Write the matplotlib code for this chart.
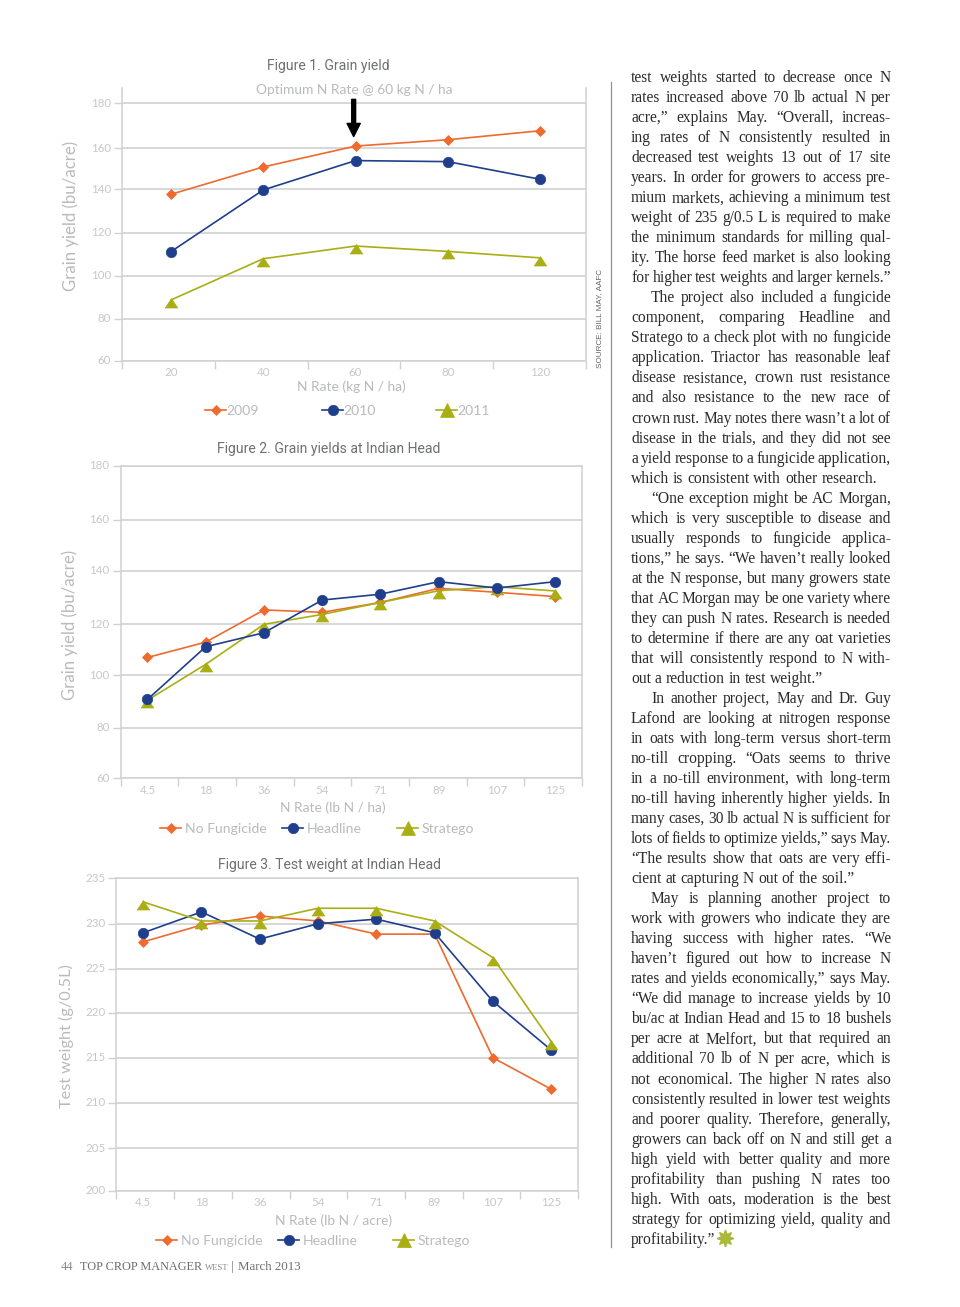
# Recreate magazine page: three oat N rate charts plus a text column

import matplotlib
matplotlib.use("Agg")
import matplotlib.pyplot as plt
from matplotlib.lines import Line2D
from matplotlib.transforms import ScaledTranslation
import numpy as np

W, H = 960, 1307

ORANGE = '#EE6A2F'
NAVY = '#1F3F8C'
OLIVE = '#A9AE12'
GRID = '#D0D1D3'
TICK_TEXT = '#C6C7C9'
LABEL_TEXT = '#B9BABC'
TITLE_TEXT = '#6F7072'

# Figure 1 data
fig1_rates = ['20', '40', '60', '80', '120']
fig1_2009 = [137.7, 150.9, 161, 163.8, 167.8]
fig1_2010 = [111.2, 139.7, 154, 153.5, 144.9]
fig1_2011 = [88.8, 107.9, 113.8, 111.3, 108.3]

# Figure 2 data
rates_lb = ['4.5', '18', '36', '54', '71', '89', '107', '125']
fig2_none = [107, 113, 125.4, 124.5, 128.2, 133.5, 132, 130.4]
fig2_headline = [90.8, 111.2, 116.7, 129.1, 131.3, 136, 133.6, 136]
fig2_stratego = [90.5, 104.3, 120, 123.7, 128.2, 132.6, 134.1, 132.5]

# Figure 3 data
fig3_none = [228, 229.85, 230.85, 230.3, 228.85, 228.85, 215, 211.5]
fig3_headline = [229, 231.3, 228.3, 230, 230.5, 229, 221.3, 215.85]
fig3_stratego = [232.4, 230.3, 230.3, 231.7, 231.7, 230.3, 226.25, 216.8]

# Tick values and where the printed gridlines fall on the page, they are not evenly spaced
fig1_ticks = [60, 80, 100, 120, 140, 160, 180, 187]
fig1_tick_px = [360.7, 319, 275.7, 232.7, 189.3, 148.3, 103.3, 88]
fig2_ticks = [60, 80, 100, 120, 140, 160, 180]
fig2_tick_px = [778.3, 727.7, 675.3, 624.3, 571, 520, 466]
fig3_ticks = [200, 205, 210, 215, 220, 225, 230, 235]
fig3_tick_px = [1191, 1148.3, 1102.7, 1057.7, 1012.7, 969, 923.7, 878.3]

# Text column, (line, justified, indented)
column_lines = [
    ("test weights started to decrease once N", True, False),
    ("rates increased above 70 lb actual N per", True, False),
    ("acre,\u201d explains May. \u201cOverall, increas-", True, False),
    ("ing rates of N consistently resulted in", True, False),
    ("decreased test weights 13 out of 17 site", True, False),
    ("years. In order for growers to access pre-", True, False),
    ("mium markets, achieving a minimum test", True, False),
    ("weight of 235 g/0.5 L is required to make", True, False),
    ("the minimum standards for milling qual-", True, False),
    ("ity. The horse feed market is also looking", True, False),
    ("for higher test weights and larger kernels.\u201d", True, False),
    ("The project also included a fungicide", True, True),
    ("component, comparing Headline and", True, False),
    ("Stratego to a check plot with no fungicide", True, False),
    ("application. Triactor has reasonable leaf", True, False),
    ("disease resistance, crown rust resistance", True, False),
    ("and also resistance to the new race of", True, False),
    ("crown rust. May notes there wasn\u2019t a lot of", True, False),
    ("disease in the trials, and they did not see", True, False),
    ("a yield response to a fungicide application,", True, False),
    ("which is consistent with other research.", False, False),
    ("\u201cOne exception might be AC Morgan,", True, True),
    ("which is very susceptible to disease and", True, False),
    ("usually responds to fungicide applica-", True, False),
    ("tions,\u201d he says. \u201cWe haven\u2019t really looked", True, False),
    ("at the N response, but many growers state", True, False),
    ("that AC Morgan may be one variety where", True, False),
    ("they can push N rates. Research is needed", True, False),
    ("to determine if there are any oat varieties", True, False),
    ("that will consistently respond to N with-", True, False),
    ("out a reduction in test weight.\u201d", False, False),
    ("In another project, May and Dr. Guy", True, True),
    ("Lafond are looking at nitrogen response", True, False),
    ("in oats with long-term versus short-term", True, False),
    ("no-till cropping. \u201cOats seems to thrive", True, False),
    ("in a no-till environment, with long-term", True, False),
    ("no-till having inherently higher yields. In", True, False),
    ("many cases, 30 lb actual N is sufficient for", True, False),
    ("lots of fields to optimize yields,\u201d says May.", True, False),
    ("\u201cThe results show that oats are very effi-", True, False),
    ("cient at capturing N out of the soil.\u201d", False, False),
    ("May is planning another project to", True, True),
    ("work with growers who indicate they are", True, False),
    ("having success with higher rates. \u201cWe", True, False),
    ("haven\u2019t figured out how to increase N", True, False),
    ("rates and yields economically,\u201d says May.", True, False),
    ("\u201cWe did manage to increase yields by 10", True, False),
    ("bu/ac at Indian Head and 15 to 18 bushels", True, False),
    ("per acre at Melfort, but that required an", True, False),
    ("additional 70 lb of N per acre, which is", True, False),
    ("not economical. The higher N rates also", True, False),
    ("consistently resulted in lower test weights", True, False),
    ("and poorer quality. Therefore, generally,", True, False),
    ("growers can back off on N and still get a", True, False),
    ("high yield with better quality and more", True, False),
    ("profitability than pushing N rates too", True, False),
    ("high. With oats, moderation is the best", True, False),
    ("strategy for optimizing yield, quality and", True, False),
    ("profitability.\u201d", False, False),
]

SANS = ['Lato', 'DejaVu Sans']
NARROW = ['Roboto', 'DejaVu Sans']
SERIF = ['Liberation Serif', 'DejaVu Serif']

# Triangle hung from its data point: the line meets it near the apex
TRIANGLE = [(-1, -1.2), (1, -1.2), (0, 0.3), (-1, -1.2)]
TRIANGLE_SIZE = 10.8

fig = plt.figure(figsize=(W / 100, H / 100), dpi=100, facecolor='white')


def fx(px):
    return px / W


def fy(py):
    return 1 - py / H


def page_text(x, y, s, **kw):
    kw.setdefault('va', 'center')
    return fig.text(fx(x), fy(y), s, **kw)


def make_axes(left, right, ticks, tick_px, labels, xlim):
    top, bottom = tick_px[-1], tick_px[0]
    ax = fig.add_axes([fx(left), fy(bottom), (right - left) / W, (bottom - top) / H])

    # piecewise y scale so the gridlines land where they are printed
    neg_px = [-p for p in tick_px]
    ax.set_yscale('function', functions=(lambda v: np.interp(v, ticks, neg_px),
                                         lambda p: np.interp(p, neg_px, ticks)))
    ax.set_xlim(*xlim)
    ax.set_ylim(ticks[0], ticks[-1])
    ax.set_facecolor('none')
    for side in ['left', 'right', 'top', 'bottom']:
        ax.spines[side].set_color(GRID)
        ax.spines[side].set_linewidth(1.1)
    ax.set_yticks(ticks)
    ax.tick_params(axis='y', length=6, width=1.0, color=GRID, labelcolor=TICK_TEXT,
                   labelsize=8.3, pad=2)
    ax.grid(axis='y', color=GRID, linewidth=1.2)
    ax.set_axisbelow(True)

    # tick marks sit on the band edges, labels in the band centres
    ax.set_xticks(np.linspace(xlim[0], xlim[1], len(labels) + 1))
    ax.set_xticklabels([])
    ax.tick_params(axis='x', which='major', length=6, width=1.0, color=GRID)
    ax.set_xticks(range(len(labels)), labels=labels, minor=True)
    ax.tick_params(axis='x', which='minor', length=0, labelcolor=TICK_TEXT,
                   labelsize=8.3, pad=4.5)
    for lab in ax.get_xticklabels(minor=True) + ax.get_yticklabels():
        lab.set_family(SANS)
    return ax


def nudge_ylabels(ax):
    # y tick labels are printed a little above their gridlines
    up = ScaledTranslation(0, 1.2 / 100, fig.dpi_scale_trans)
    for lab in ax.get_yticklabels():
        lab.set_transform(lab.get_transform() + up)


def draw_series(ax, ys, color, marker, size):
    return ax.plot(range(len(ys)), ys, color=color, lw=1.2, marker=marker,
                   markersize=size, markeredgecolor=color, markeredgewidth=0.5,
                   clip_on=False)[0]


def legend_entry(color, marker, size, label, x, y, textpad=0.25):
    handle = Line2D([], [], color=color, lw=1.2, marker=marker, markersize=size,
                    markeredgecolor=color, markeredgewidth=0.5)
    return fig.legend(handles=[handle], labels=[label], loc='center left',
                      bbox_to_anchor=(fx(x), fy(y)), frameon=False, borderpad=0,
                      borderaxespad=0, handlelength=1.5, handletextpad=textpad,
                      prop={'family': SANS, 'size': 10.1}, labelcolor=LABEL_TEXT)


def three_entries(names, xs, y, textpad=0.25):
    legend_entry(ORANGE, 'D', 5.4, names[0], xs[0], y, textpad)
    legend_entry(NAVY, 'o', 7.5, names[1], xs[1], y, textpad)
    legend_entry(OLIVE, '^', 9.5, names[2], xs[2], y, textpad)


# Figure 1
ax1 = make_axes(122, 586, fig1_ticks, fig1_tick_px, fig1_rates, (-0.531, 4.498))
ax1.set_yticks(fig1_ticks[:-1])
ax1.spines['top'].set_visible(False)
draw_series(ax1, fig1_2009, ORANGE, 'D', 5)
draw_series(ax1, fig1_2010, NAVY, 'o', 7.5)
draw_series(ax1, fig1_2011, OLIVE, TRIANGLE, TRIANGLE_SIZE)
ax1.annotate('', xy=(1.98, 165.2), xytext=(1.98, 181.8),
             arrowprops=dict(facecolor='black', edgecolor='black', width=2.8,
                             headwidth=9.5, headlength=9.5, shrink=0))
nudge_ylabels(ax1)
page_text(328.5, 66, 'Figure 1. Grain yield', ha='center', color=TITLE_TEXT,
          family=NARROW, fontsize=10.1)
page_text(354.5, 89.5, 'Optimum N Rate @ 60 kg N / ha', ha='center', color=LABEL_TEXT,
          family=SANS, fontsize=9.9)
page_text(351, 387, 'N Rate (kg N / ha)', ha='center', color=LABEL_TEXT,
          family=SANS, fontsize=9.9)
page_text(71, 216, 'Grain yield (bu/acre)', ha='center', rotation=90, color=LABEL_TEXT,
          family=SANS, fontsize=12.1)
page_text(600, 318, 'SOURCE: BILL MAY, AAFC', ha='center', rotation=90, color='#666666',
          family=['Liberation Sans'], fontsize=5.9)
three_entries(['2009', '2010', '2011'], [205, 322, 436], 411, 0)

# Figure 2
ax2 = make_axes(120.7, 582, fig2_ticks, fig2_tick_px, rates_lb, (-0.46, 7.46))
draw_series(ax2, fig2_none, ORANGE, 'D', 5)
draw_series(ax2, fig2_stratego, OLIVE, TRIANGLE, TRIANGLE_SIZE)
draw_series(ax2, fig2_headline, NAVY, 'o', 7.5)
nudge_ylabels(ax2)
page_text(328.5, 449, 'Figure 2. Grain yields at Indian Head', ha='center', color=TITLE_TEXT,
          family=NARROW, fontsize=10.1)
page_text(333, 807.5, 'N Rate (lb N / ha)', ha='center', color=LABEL_TEXT,
          family=SANS, fontsize=9.9)
page_text(70, 625, 'Grain yield (bu/acre)', ha='center', rotation=90, color=LABEL_TEXT,
          family=SANS, fontsize=12.1)
three_entries(['No Fungicide', 'Headline', 'Stratego'], [160, 282, 397], 829)

# Figure 3
ax3 = make_axes(116.4, 578, fig3_ticks, fig3_tick_px, rates_lb, (-0.46, 7.46))
draw_series(ax3, fig3_none, ORANGE, 'D', 5)
draw_series(ax3, fig3_headline, NAVY, 'o', 7.5)
draw_series(ax3, fig3_stratego, OLIVE, TRIANGLE, TRIANGLE_SIZE)
nudge_ylabels(ax3)
page_text(329, 865, 'Figure 3. Test weight at Indian Head', ha='center', color=TITLE_TEXT,
          family=NARROW, fontsize=10.1)
page_text(334, 1220.5, 'N Rate (lb N / acre)', ha='center', color=LABEL_TEXT,
          family=SANS, fontsize=9.9)
page_text(66, 1036, 'Test weight (g/0.5L)', ha='center', rotation=90, color=LABEL_TEXT,
          family=SANS, fontsize=11.7)
three_entries(['No Fungicide', 'Headline', 'Stratego'], [156, 278, 393], 1241)

# Footer
page_text(61, 1267, '44', color='#8A8A8A', family=SERIF, fontsize=9)
page_text(80, 1267, 'TOP CROP MANAGER', color='#6E6E6E', family=SERIF, fontsize=8.8)
page_text(205, 1267.5, 'WEST', color='#8A8A8A', family=SERIF, fontsize=6.2)
page_text(231, 1267, '|', color='#6E6E6E', family=SERIF, fontsize=9)
page_text(238, 1267, 'March 2013', color='#6E6E6E', family=SERIF, fontsize=9.3)

# Column rule
fig.add_artist(Line2D([fx(611), fx(611)], [fy(82), fy(1247)], color='#8F9092', lw=0.9))

# Justified text column, word by word
renderer = fig.canvas.get_renderer()
COL_LEFT, COL_RIGHT = 631, 891
LINE_TOP, LINE_STEP = 76, 20.03
INDENT = 20


def word_width(word):
    t = fig.text(0, 0, word, family=SERIF, fontsize=11.2)
    w = t.get_window_extent(renderer).width
    t.remove()
    return w


for i, (line, justified, indented) in enumerate(column_lines):
    y = LINE_TOP + i * LINE_STEP
    x0 = COL_LEFT + (INDENT if indented else 0)
    words = line.split(' ')
    widths = [word_width(w) for w in words]
    if justified and len(words) > 1:
        gap = (COL_RIGHT - x0 - sum(widths)) / (len(words) - 1)
    else:
        gap = word_width('n n') - 2 * word_width('n')
    x = x0
    for w, ww in zip(words, widths):
        page_text(x, y, w, family=SERIF, fontsize=11.2, color='#2B2B2B', va='center_baseline')
        x += ww + gap

# End-of-article leaf ornament
fig.add_artist(Line2D([fx(725)], [fy(1238)], marker=(8, 1, 0), markersize=12,
                      color='#AAB93A', markeredgecolor='#AAB93A'))

fig.savefig('out.png', dpi=100, facecolor='white')
